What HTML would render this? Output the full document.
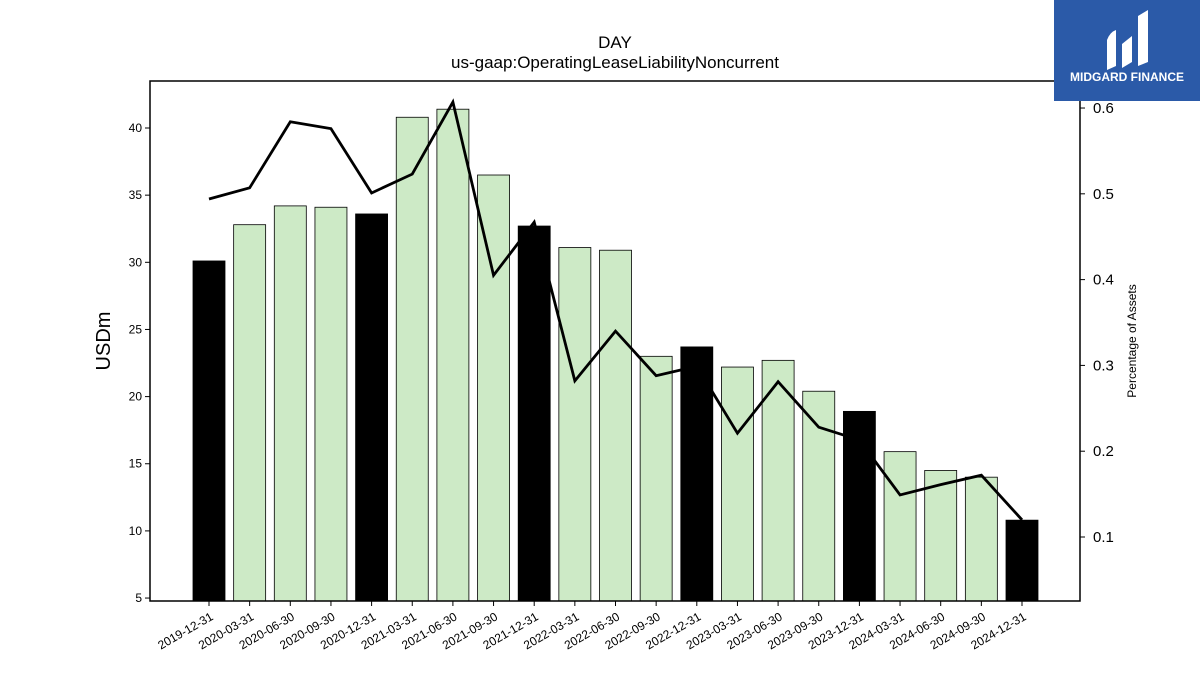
<!DOCTYPE html>
<html><head><meta charset="utf-8"><style>
body{margin:0;background:#fff;font-family:"Liberation Sans","DejaVu Sans",sans-serif}
#c{position:absolute;left:0;top:0}
</style></head><body>
<svg id="c" width="1200" height="675">
<g id="bars"></g>
<g id="line"></g>
<g id="axes"></g>
<text x="615" y="48" font-size="17" text-anchor="middle">DAY</text>
<text x="615" y="68" font-size="17" text-anchor="middle">us-gaap:OperatingLeaseLiabilityNoncurrent</text>
<text transform="translate(110,341) rotate(-90)" font-size="20" text-anchor="middle">USDm</text>
<text transform="translate(1136,341) rotate(-90)" font-size="12" text-anchor="middle">Percentage of Assets</text>
<g>
<rect x="1054" y="0" width="146" height="101" fill="#2b5aa8"/>
<path d="M1107 70 L1107 40 Q1110 32 1116 30 L1116 66 Z M1122 68 L1122 44 L1132 36 L1132 62 Z M1138 66 L1138 16 L1148 10 L1148 62 Z" fill="#fff"/>
<text x="1127" y="81" font-size="12" font-weight="bold" fill="#fff" text-anchor="middle">MIDGARD FINANCE</text>
</g>
</svg>
<script>
const categories=["2019-12-31","2020-03-31","2020-06-30","2020-09-30","2020-12-31","2021-03-31","2021-06-30","2021-09-30","2021-12-31","2022-03-31","2022-06-30","2022-09-30","2022-12-31","2023-03-31","2023-06-30","2023-09-30","2023-12-31","2024-03-31","2024-06-30","2024-09-30","2024-12-31"];
const values=[30.1,32.8,34.2,34.1,33.6,40.8,41.4,36.5,32.7,31.1,30.9,23.0,23.7,22.2,22.7,20.4,18.9,15.9,14.5,14.0,10.8];
const ratios=[0.494,0.507,0.584,0.576,0.501,0.523,0.607,0.405,0.467,0.282,0.340,0.288,0.299,0.221,0.281,0.228,0.213,0.149,0.161,0.172,0.120];
const leftTicks=[5,10,15,20,25,30,35,40];
const rightTicks=[0.1,0.2,0.3,0.4,0.5,0.6];
const NS="http://www.w3.org/2000/svg";
const L=150,R=1080,T=81,B=601;
const yMin=4.78,yMax=43.5,rMin=0.0254,rMax=0.6315;
const y=v=>B-(v-yMin)/(yMax-yMin)*(B-T);
const yr=v=>B-(v-rMin)/(rMax-rMin)*(B-T);
const step=40.65,x0=209;
const x=i=>x0+i*step;
function mk(tag,attrs,parent){const e=document.createElementNS(NS,tag);for(const k in attrs)e.setAttribute(k,attrs[k]);parent.appendChild(e);return e;}
const gb=document.getElementById('bars'),gl=document.getElementById('line'),ga=document.getElementById('axes');
values.forEach((v,i)=>{
 const dark=categories[i].endsWith('12-31');
 const r=mk('rect',{x:x(i)-16,y:y(v),width:32,height:B-y(v),fill:dark?'#000':'#cdeac6',stroke:'#000','stroke-width':0.8},gb);
 
 
});
const p=mk('polyline',{points:ratios.map((v,i)=>x(i)+','+yr(v)).join(' '),fill:'none',stroke:'#000','stroke-width':2.8},gl);


const fr=mk('rect',{x:L,y:T,width:R-L,height:B-T,fill:'none',stroke:'#000','stroke-width':1.5},ga);


leftTicks.forEach(t=>{
 mk('line',{x1:L-5,x2:L,y1:y(t),y2:y(t),stroke:'#000'},ga);
 const tx=mk('text',{x:L-8,y:y(t)+4,'font-size':12,'text-anchor':'end'},ga);tx.textContent=t;
 
 
});
rightTicks.forEach(t=>{
 mk('line',{x1:R,x2:R+5,y1:yr(t),y2:yr(t),stroke:'#000'},ga);
 const tx=mk('text',{x:R+13,y:yr(t)+5,'font-size':15},ga);tx.textContent=t.toFixed(1);
 
 
});
categories.forEach((c,i)=>{
 mk('line',{x1:x(i),x2:x(i),y1:B,y2:B+5,stroke:'#000'},ga);
 const tx=mk('text',{transform:`translate(${x(i)+5},${B+18}) rotate(-30)`,'font-size':12,'text-anchor':'end'},ga);tx.textContent=c;
 
 
});
</script>
</body></html>
